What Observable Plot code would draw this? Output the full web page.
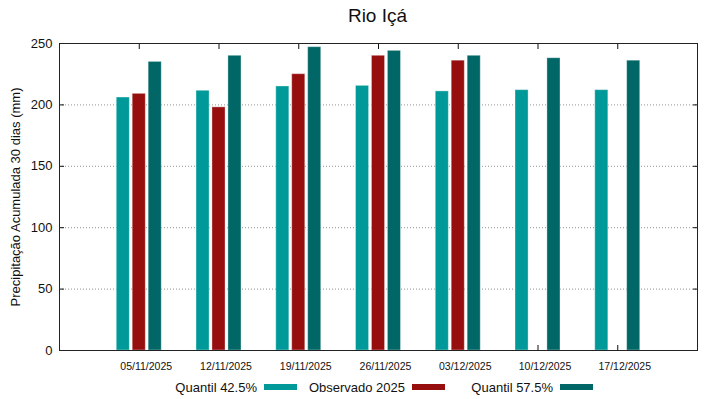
<!DOCTYPE html>
<html><head><meta charset="utf-8">
<script src="https://cdn.jsdelivr.net/npm/d3@7"></script>
<script src="https://cdn.jsdelivr.net/npm/@observablehq/plot@0.6"></script>
<style>
body{margin:0;background:#fff;font-family:"Liberation Sans",Arial,sans-serif;color:#111;}
#wrap{width:719px;height:399px;position:relative;overflow:hidden;}
#title{height:32px;line-height:31px;text-align:center;font-size:19px;padding-left:36px;}
#chart svg{display:block;}
#legend{height:24px;display:flex;align-items:center;padding-left:149px;font-size:13px;}
.item{width:148px;display:flex;justify-content:flex-end;align-items:center;}
.sw{width:33px;height:6px;margin-left:7px;}
</style></head>
<body><div id="wrap"><div id="title">Rio Içá</div><div id="chart"></div><div id="legend"></div></div>
<script>
const dates = ["05/11/2025","12/11/2025","19/11/2025","26/11/2025","03/12/2025","10/12/2025","17/12/2025"];
const seriesNames = ["Quantil 42.5%","Observado 2025","Quantil 57.5%"];
const q425 = [206, 211.5, 215, 215.5, 211, 212, 212];
const obs2025 = [209, 198, 225, 240, 236, null, null];
const q575 = [235, 240, 247, 244, 240, 238, 236];
const yTicks = [0, 50, 100, 150, 200, 250];
const colors = ["#009999", "#970e0e", "#006666"];

const seriesValues = [q425, obs2025, q575];
const rows = [];
seriesValues.forEach((vals, k) => {
  vals.forEach((v, i) => {
    if (v != null) rows.push({i, date: dates[i], series: seriesNames[k], v, off: (k - 1) * 0.2});
  });
});
const idx = d3.range(dates.length);
const hw = 0.082;

const chart = Plot.plot({
  width: 719, height: 343,
  marginLeft: 59, marginRight: 22, marginTop: 11, marginBottom: 25,
  style: {fontFamily: "Liberation Sans, Arial, sans-serif", fontSize: "13px", color: "#111", background: "#fff"},
  x: {domain: [-1, 7], label: null},
  y: {domain: [0, 250], label: null},
  color: {domain: seriesNames, range: colors},
  marks: [
    Plot.gridY([50, 100, 150, 200], {stroke: "#888", strokeOpacity: 0.9, strokeDasharray: "1,2"}),
    Plot.axisY(yTicks, {tickSize: 0, tickPadding: 7, fontSize: 13, label: "Precipitação Acumulada 30 dias (mm)", labelAnchor: "center", labelArrow: "none", labelOffset: 49}),
    Plot.axisY(yTicks, {tickSize: -5, tickFormat: () => "", label: null}),
    Plot.axisY(yTicks, {anchor: "right", tickSize: -5, tickFormat: () => "", label: null}),
    Plot.axisX(idx, {tickSize: 0, tickPadding: 12, tickFormat: i => dates[i], dx: 7, fontSize: 10.5, label: null}),
    Plot.axisX(idx, {anchor: "bottom", tickSize: -5, tickFormat: () => "", label: null}),
    Plot.axisX(idx, {anchor: "top", tickSize: -5, tickFormat: () => "", label: null}),
    Plot.rect(rows, {x1: d => d.i + d.off - hw, x2: d => d.i + d.off + hw, y1: d => 0, y2: "v", fill: "series", stroke: "white", strokeOpacity: 0.35, strokeWidth: 1}),
    Plot.frame({stroke: "#222"})
  ]
});
document.getElementById("chart").appendChild(chart);

const legend = document.getElementById("legend");
seriesNames.forEach((n, k) => {
  const it = document.createElement("div");
  it.className = "item";
  const t = document.createElement("span");
  t.textContent = n;
  const sw = document.createElement("span");
  sw.className = "sw";
  sw.style.background = colors[k];
  it.appendChild(t); it.appendChild(sw);
  legend.appendChild(it);
});
</script></body></html>
